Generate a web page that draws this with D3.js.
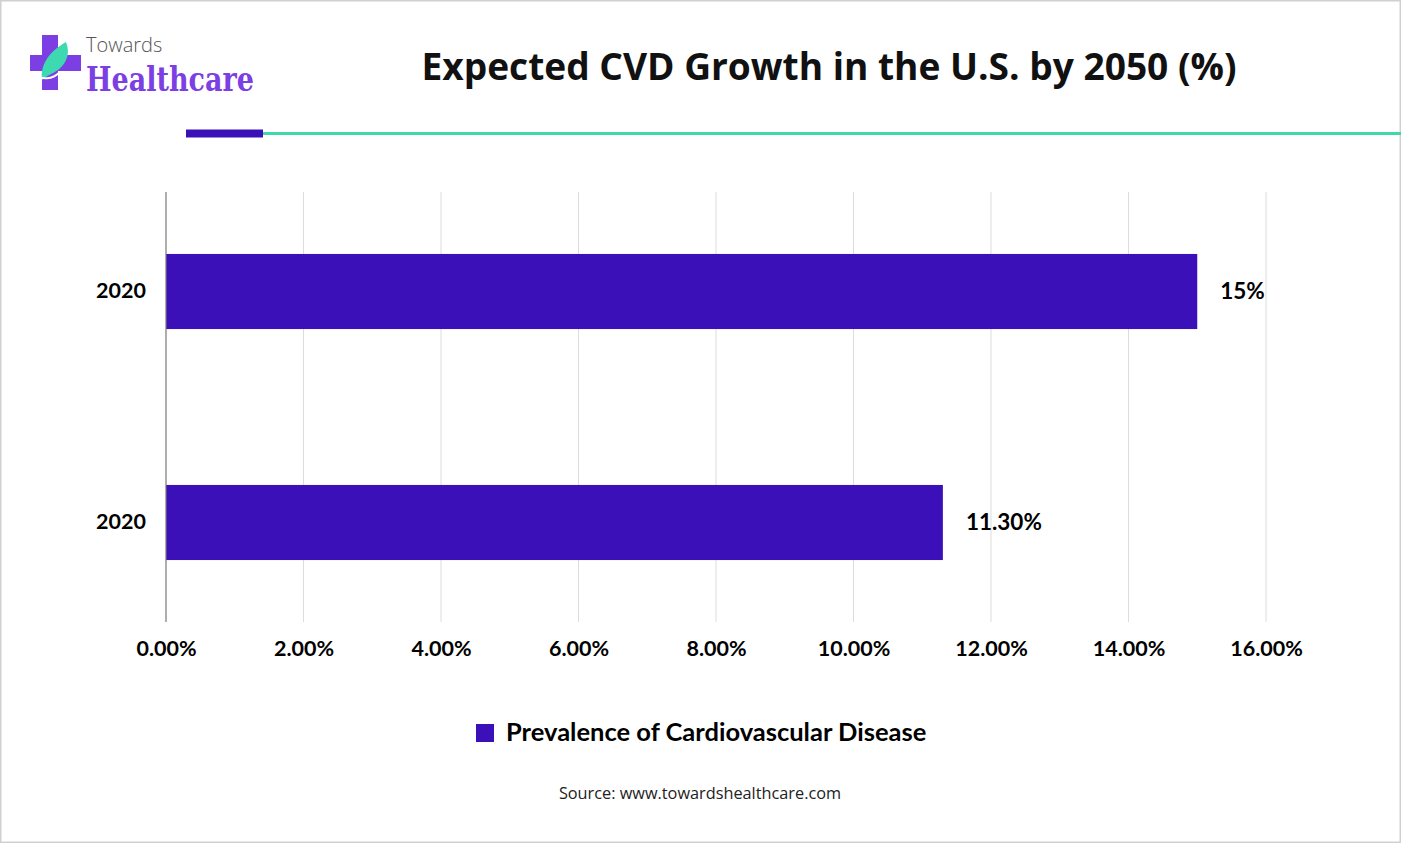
<!DOCTYPE html>
<html><head><meta charset="utf-8">
<script src="https://cdn.jsdelivr.net/npm/d3@7"></script>
<style>body{margin:0;background:#fff;}svg{display:block;}</style>
</head><body>
<svg id="c" width="1401" height="843"></svg>
<script>
const categories = ["2020", "2020"];
const values = [15.0, 11.3];
const valueLabels = ["15%", "11.30%"];
const xTicks = [0, 2, 4, 6, 8, 10, 12, 14, 16];
const seriesName = "Prevalence of Cardiovascular Disease";
const title = "Expected CVD Growth in the U.S. by 2050 (%)";
const source = "Source: www.towardshealthcare.com";

const svg = d3.select("#c");
const W = 1401, H = 843;
const barColor = "#3c10b8";
const fontB = "Lato, 'Open Sans', sans-serif";

// frame
svg.append("rect").attr("x",0.75).attr("y",0.75).attr("width",W-1.5).attr("height",H-1.5)
  .attr("fill","#fff").attr("stroke","#d0d0d0").attr("stroke-width",1.5);

// logo
const lg = svg.append("g");
lg.append("rect").attr("x",42).attr("y",35).attr("width",16).attr("height",55).attr("fill","#7b3fe4");
lg.append("rect").attr("x",30).attr("y",55).attr("width",51).attr("height",16).attr("fill","#7b3fe4");
lg.append("path").attr("d","M66,42 C52,50 40,62 42,80 C46,76 52,74 58,70 C68,62 70,52 66,42 Z").attr("fill","#3dd9b0");
lg.append("path").attr("d","M34,74 C42,80 52,80 60,72").attr("fill","none").attr("stroke","#fff").attr("stroke-width",2);
lg.append("text").attr("x",86).attr("y",52).attr("font-family","'Open Sans', sans-serif").attr("font-weight",300).attr("font-size",20)
  .attr("fill","#555").text("Towards");
lg.append("text").attr("x",86).attr("y",91).attr("font-family","'DejaVu Serif', 'Liberation Serif', serif")
  .attr("font-weight","bold").attr("font-size",33).attr("fill","#7b3fe4").attr("textLength",168)
  .attr("lengthAdjust","spacingAndGlyphs").text("Healthcare");

// title
svg.append("text").attr("x",829).attr("y",80).attr("text-anchor","middle")
  .attr("font-family","'Open Sans', sans-serif").attr("font-weight","bold").attr("font-size",37)
  .attr("fill","#111").attr("textLength",815).attr("lengthAdjust","spacingAndGlyphs").text(title);

// header lines
svg.append("rect").attr("x",263).attr("y",132).attr("width",W-263).attr("height",3).attr("fill","#3dd9a8");
svg.append("rect").attr("x",186).attr("y",129.5).attr("width",77).attr("height",8).attr("fill","#3c10b8");

// scales
const x = d3.scaleLinear().domain([0,16]).range([166,1266]);
const y = d3.scaleBand().domain(d3.range(categories.length)).range([176,638])
  .paddingInner(0.675).paddingOuter(0.3375);
const plotTop = 192, plotBottom = 622;

// grid
svg.append("g").selectAll("line").data(xTicks.slice(1)).join("line")
  .attr("x1",d=>x(d)).attr("x2",d=>x(d)).attr("y1",plotTop).attr("y2",plotBottom)
  .attr("stroke","#dcdcdc").attr("stroke-width",1);

// bars
svg.append("g").selectAll("rect").data(values).join("rect")
  .attr("x",x(0)).attr("y",(d,i)=>y(i)).attr("width",d=>x(d)-x(0)).attr("height",y.bandwidth())
  .attr("fill",barColor);

// axis line
svg.append("line").attr("x1",x(0)).attr("x2",x(0)).attr("y1",plotTop).attr("y2",plotBottom)
  .attr("stroke","#777").attr("stroke-width",1.2);

// x tick labels via axis
const xAxis = d3.axisBottom(x).tickValues(xTicks).tickFormat(d=>d.toFixed(2)+"%").tickSize(0).tickPadding(0);
const xg = svg.append("g").attr("transform",`translate(0,${641})`).call(xAxis);
xg.select(".domain").remove();
xg.selectAll("text").attr("font-family",fontB).attr("font-weight","bold").attr("font-size",21.5).attr("fill","#000");

// y labels
const yAxis = d3.axisLeft(y).tickFormat(i=>categories[i]).tickSize(0).tickPadding(20);
const yg = svg.append("g").attr("transform",`translate(${x(0)},0)`).call(yAxis);
yg.select(".domain").remove();
yg.selectAll("text").attr("font-family",fontB).attr("font-weight","bold").attr("font-size",21.5).attr("fill","#000");

// value labels
svg.append("g").selectAll("text").data(values).join("text")
  .attr("x",d=>x(d)+23).attr("y",(d,i)=>y(i)+y.bandwidth()/2).attr("dy","0.35em")
  .attr("font-family",fontB).attr("font-weight","bold").attr("font-size",22.5).attr("fill","#000")
  .text((d,i)=>valueLabels[i]);

// legend
svg.append("rect").attr("x",476).attr("y",724).attr("width",18).attr("height",18).attr("fill",barColor);
svg.append("text").attr("x",506).attr("y",741).attr("font-family",fontB).attr("font-weight","bold")
  .attr("font-size",25.5).attr("fill","#000").text(seriesName);

// source
svg.append("text").attr("x",700).attr("y",799).attr("text-anchor","middle")
  .attr("font-family","'Open Sans', sans-serif").attr("font-size",16.3).attr("fill","#222").text(source);
</script>
</body></html>
